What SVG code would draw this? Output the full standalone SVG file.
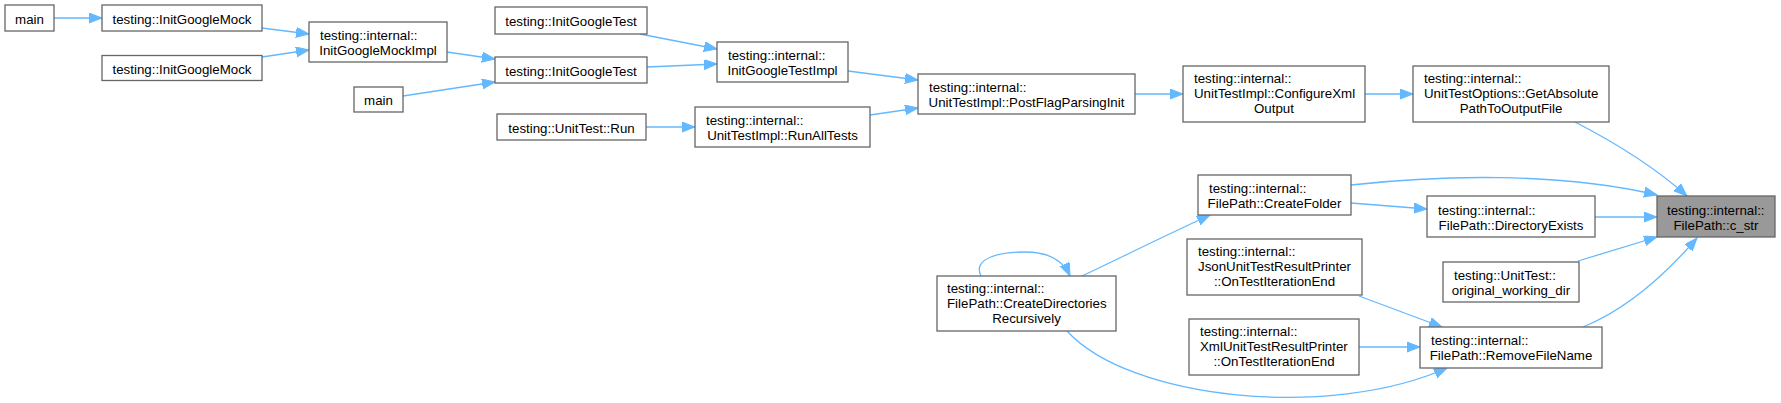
<svg xmlns="http://www.w3.org/2000/svg" width="1781" height="403" viewBox="0 0 1781 403">
<style>
.n rect{fill:#fff;stroke:#666;stroke-width:1.3}
.n.f rect{fill:#999}
.n text{font-family:"Liberation Sans",Arial,Helvetica,sans-serif;font-size:13.3px;fill:#000}
.c{text-anchor:middle}
.e path{fill:none;stroke:#63b8ff;stroke-width:1.3;marker-end:url(#ah)}
</style>
<defs>
<marker id="ah" markerUnits="userSpaceOnUse" markerWidth="14" markerHeight="11" refX="13" refY="5" orient="auto" viewBox="0 0 14 11">
<path d="M0,0 L13,5 L0,10 z" fill="#63b8ff" stroke="#63b8ff" stroke-width="1"/>
</marker>
</defs>
<rect width="1781" height="403" fill="#fff"/>
<g class="e" id="edges">
<path d="M54,18 L102,18"/>
<path d="M262,28 L309,34"/>
<path d="M262,57 L309,50"/>
<path d="M447,52 L495,59"/>
<path d="M403,96 L495,82"/>
<path d="M640,34 L717,49"/>
<path d="M647,67 L717,64"/>
<path d="M848,71 L918,80"/>
<path d="M646,127 L695,127"/>
<path d="M870,115 L918,108"/>
<path d="M1135,94 L1183,94"/>
<path d="M1365,94 L1413,94"/>
<path d="M1575,122 C1610,140 1650,163 1687,196"/>
<path d="M1351,185 C1440,175 1560,172 1657,195"/>
<path d="M1351,203 L1427,209"/>
<path d="M1595,217 L1657,217"/>
<path d="M1578,261 L1657,237"/>
<path d="M1583,327 C1625,310 1665,275 1697,238"/>
<path d="M1359,296 L1442,327"/>
<path d="M1359,347 L1420,347"/>
<path d="M1067,331 C1130,400 1330,420 1447,368"/>
<path d="M1082,276 C1120,258 1160,238 1210,215"/>
<path d="M981,276 C972,258 1000,252 1025,252 C1045,252 1062,258 1070,276"/>
</g>
<g class="n" id="main1"><rect x="5" y="5" width="49" height="26"/><text class="c" x="29.5" y="23.5">main</text></g>
<g class="n" id="igm1"><rect x="102" y="5" width="160" height="26"/><text class="c" x="182" y="23.5">testing::InitGoogleMock</text></g>
<g class="n" id="igm2"><rect x="102" y="55.5" width="160" height="25"/><text class="c" x="182" y="73.5">testing::InitGoogleMock</text></g>
<g class="n" id="igmi"><rect x="309" y="22" width="138" height="40"/><text x="320" y="40">testing::internal::</text><text class="c" x="378" y="55">InitGoogleMockImpl</text></g>
<g class="n" id="main2"><rect x="354" y="87" width="49" height="25"/><text class="c" x="378.5" y="105">main</text></g>
<g class="n" id="igt1"><rect x="495" y="7" width="152" height="27"/><text class="c" x="571" y="26">testing::InitGoogleTest</text></g>
<g class="n" id="igt2"><rect x="495" y="57" width="152" height="26"/><text class="c" x="571" y="75.5">testing::InitGoogleTest</text></g>
<g class="n" id="igti"><rect x="717" y="42" width="131" height="40"/><text x="728" y="60">testing::internal::</text><text class="c" x="782.5" y="75">InitGoogleTestImpl</text></g>
<g class="n" id="run"><rect x="497" y="114" width="149" height="26"/><text class="c" x="571.5" y="132.5">testing::UnitTest::Run</text></g>
<g class="n" id="rat"><rect x="695" y="107" width="175" height="40"/><text x="706" y="125">testing::internal::</text><text class="c" x="782.5" y="140">UnitTestImpl::RunAllTests</text></g>
<g class="n" id="pfpi"><rect x="918" y="74" width="217" height="40"/><text x="929" y="92">testing::internal::</text><text class="c" x="1026.5" y="107">UnitTestImpl::PostFlagParsingInit</text></g>
<g class="n" id="cxo"><rect x="1183" y="66" width="182" height="56"/><text x="1194" y="83">testing::internal::</text><text x="1194" y="98">UnitTestImpl::ConfigureXml</text><text class="c" x="1274" y="113">Output</text></g>
<g class="n" id="gap"><rect x="1413" y="66" width="196" height="56"/><text x="1424" y="83">testing::internal::</text><text x="1424" y="98">UnitTestOptions::GetAbsolute</text><text class="c" x="1511" y="113">PathToOutputFile</text></g>
<g class="n f" id="cstr"><rect x="1657" y="196" width="118" height="41"/><text x="1667" y="214.5">testing::internal::</text><text class="c" x="1716" y="229.5">FilePath::c_str</text></g>
<g class="n" id="dex"><rect x="1427" y="196" width="168" height="41"/><text x="1438" y="214.5">testing::internal::</text><text class="c" x="1511" y="229.5">FilePath::DirectoryExists</text></g>
<g class="n" id="cf"><rect x="1198" y="175" width="153" height="40"/><text x="1209" y="193">testing::internal::</text><text class="c" x="1274.5" y="208">FilePath::CreateFolder</text></g>
<g class="n" id="owd"><rect x="1443" y="262" width="136" height="40"/><text x="1454" y="280">testing::UnitTest::</text><text class="c" x="1511" y="295">original_working_dir</text></g>
<g class="n" id="json"><rect x="1187" y="239" width="175" height="56"/><text x="1198" y="256">testing::internal::</text><text x="1198" y="271">JsonUnitTestResultPrinter</text><text class="c" x="1274.5" y="286">::OnTestIterationEnd</text></g>
<g class="n" id="xml"><rect x="1189" y="319" width="170" height="56"/><text x="1200" y="336">testing::internal::</text><text x="1200" y="351">XmlUnitTestResultPrinter</text><text class="c" x="1274" y="366">::OnTestIterationEnd</text></g>
<g class="n" id="rfn"><rect x="1420" y="327" width="182" height="41"/><text x="1431" y="345">testing::internal::</text><text class="c" x="1511" y="360">FilePath::RemoveFileName</text></g>
<g class="n" id="cdr"><rect x="937" y="276" width="179" height="55"/><text x="947" y="293">testing::internal::</text><text x="947" y="308">FilePath::CreateDirectories</text><text class="c" x="1026.5" y="323">Recursively</text></g>
</svg>
